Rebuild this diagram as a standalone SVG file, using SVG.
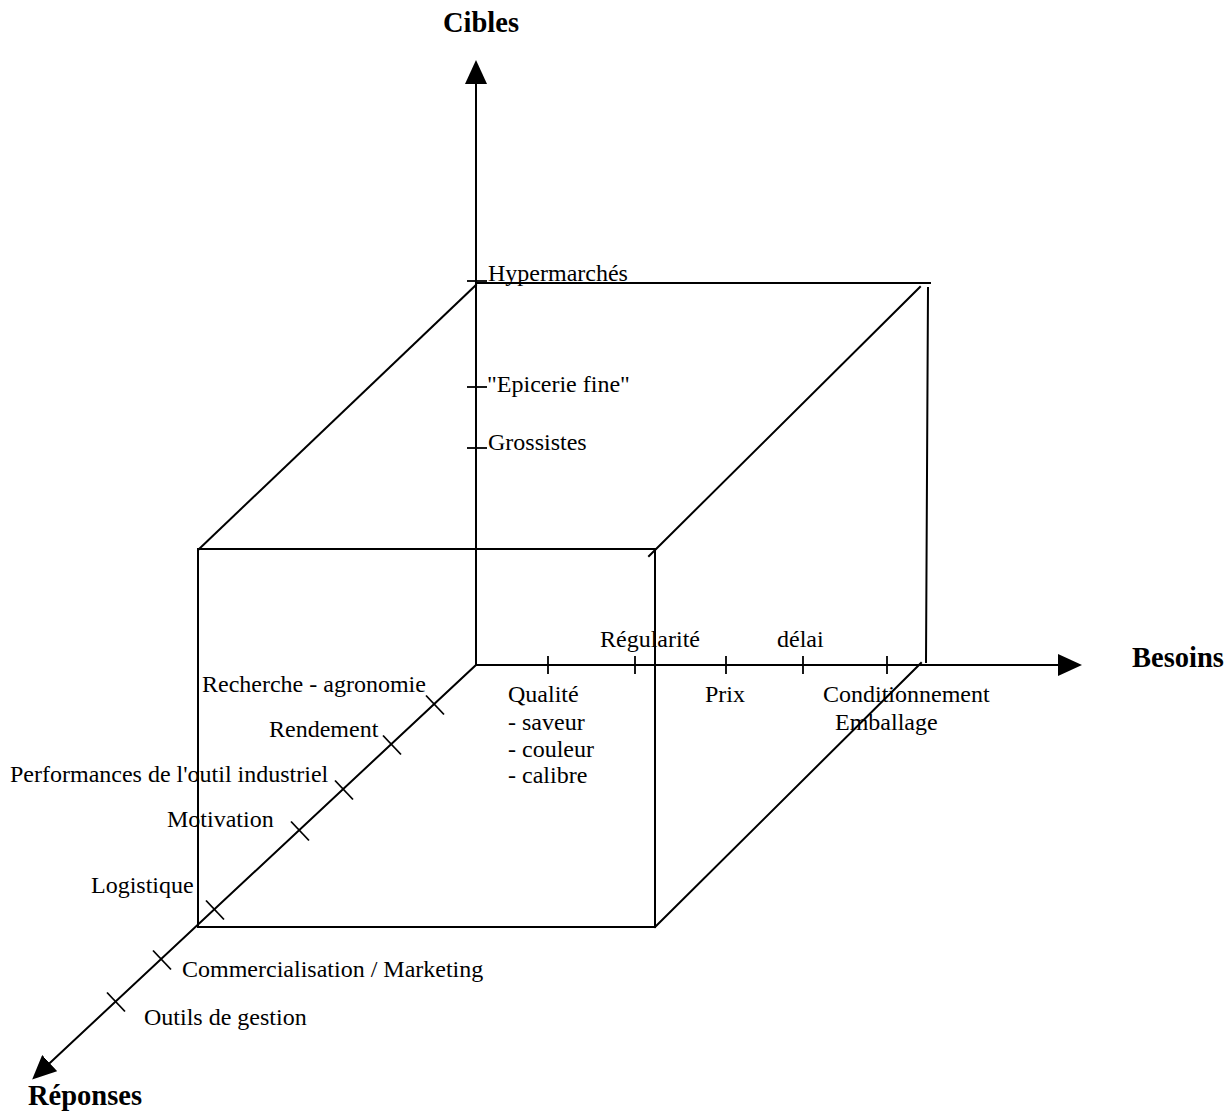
<svg xmlns="http://www.w3.org/2000/svg" xmlns:xlink="http://www.w3.org/1999/xlink" width="1232" height="1113" viewBox="0 0 1232 1113">
  <style>
    .ln { fill: none; stroke: #000; stroke-width: 2; stroke-linecap: square; }
    .tk { fill: none; stroke: #000; stroke-width: 1.8; }
    .lbl { font-family: "Liberation Serif", "Times New Roman", serif; font-size: 24px; fill: #000; }
    .ttl { font-family: "Liberation Serif", "Times New Roman", serif; font-size: 28.5px; font-weight: bold; fill: #000; }
  </style>
  <defs>
    <marker id="arrow" viewBox="0 0 24 22" refX="16" refY="11" markerWidth="24" markerHeight="22" markerUnits="userSpaceOnUse" orient="auto">
      <path d="M0,0 L24,11 L0,22 Z" fill="#000"/>
    </marker>
    <!-- tick marks: diagonal axis, horizontal axis, vertical axis -->
    <path id="tick-diag" class="tk" d="M-9,-9.5 L9,9.5"/>
    <path id="tick-h" class="tk" d="M0,-9 L0,9"/>
    <path id="tick-v" class="tk" d="M-10,0 L10,0"/>
  </defs>

  <rect width="1232" height="1113" fill="#fff"/>

  <!-- cube outline -->
  <g id="cube">
    <!-- back face (top and right edges) -->
    <path class="ln" d="M476,283 L930,283"/>
    <path class="ln" d="M928,288 L926,662"/>
    <!-- front face -->
    <rect class="ln" x="198" y="549" width="457" height="378"/>
    <!-- receding edges -->
    <path class="ln" d="M476,285 L199,549"/>
    <path class="ln" d="M920,287 L649,556"/>
    <path class="ln" d="M921,663 L655,927"/>
  </g>

  <!-- axes -->
  <g id="connectors">
    <path id="axis-cibles" class="ln" d="M476,665 L476,68" marker-end="url(#arrow)"/>
    <path id="axis-besoins" class="ln" d="M476,665 L1074,665" marker-end="url(#arrow)"/>
    <path id="axis-reponses" class="ln" d="M476,665 L38,1074" marker-end="url(#arrow)"/>
  </g>

  <!-- graduations -->
  <g id="ticks">
    <use xlink:href="#tick-v" x="477" y="281"/>
    <use xlink:href="#tick-v" x="477" y="387"/>
    <use xlink:href="#tick-v" x="477" y="448"/>

    <use xlink:href="#tick-h" x="548" y="665"/>
    <use xlink:href="#tick-h" x="635" y="665"/>
    <use xlink:href="#tick-h" x="726" y="665"/>
    <use xlink:href="#tick-h" x="803" y="665"/>
    <use xlink:href="#tick-h" x="887" y="665"/>

    <use xlink:href="#tick-diag" x="435" y="705"/>
    <use xlink:href="#tick-diag" x="392" y="745"/>
    <use xlink:href="#tick-diag" x="344" y="790"/>
    <use xlink:href="#tick-diag" x="300" y="831"/>
    <use xlink:href="#tick-diag" x="215" y="910"/>
    <use xlink:href="#tick-diag" x="162" y="960"/>
    <use xlink:href="#tick-diag" x="116" y="1002"/>
  </g>

  <!-- axis titles -->
  <g id="titles">
    <text id="t-cibles" class="ttl" x="481" y="32" text-anchor="middle">Cibles</text>
    <text id="t-besoins" class="ttl" x="1132" y="667">Besoins</text>
    <text id="t-reponses" class="ttl" x="28" y="1105">Réponses</text>
  </g>

  <!-- vertical axis: targets -->
  <g id="cibles-labels">
    <text class="lbl" x="488" y="281">Hypermarchés</text>
    <text class="lbl" x="487" y="392">"Epicerie fine"</text>
    <text class="lbl" x="488" y="450">Grossistes</text>
  </g>

  <!-- horizontal axis: needs -->
  <g id="besoins-labels">
    <text class="lbl" x="600" y="647">Régularité</text>
    <text class="lbl" x="777" y="647">délai</text>
    <text class="lbl" x="508" y="702">Qualité</text>
    <text class="lbl" x="508" y="730">- saveur</text>
    <text class="lbl" x="508" y="757">- couleur</text>
    <text class="lbl" x="508" y="783">- calibre</text>
    <text class="lbl" x="705" y="702">Prix</text>
    <text class="lbl" x="823" y="702">Conditionnement</text>
    <text class="lbl" x="835" y="730">Emballage</text>
  </g>

  <!-- diagonal axis: responses -->
  <g id="reponses-labels">
    <text class="lbl" x="202" y="692">Recherche - agronomie</text>
    <text class="lbl" x="269" y="737">Rendement</text>
    <text class="lbl" x="10" y="782">Performances de l'outil industriel</text>
    <text class="lbl" x="167" y="827">Motivation</text>
    <text class="lbl" x="91" y="893">Logistique</text>
    <text class="lbl" x="182" y="977">Commercialisation / Marketing</text>
    <text class="lbl" x="144" y="1025">Outils de gestion</text>
  </g>
</svg>
